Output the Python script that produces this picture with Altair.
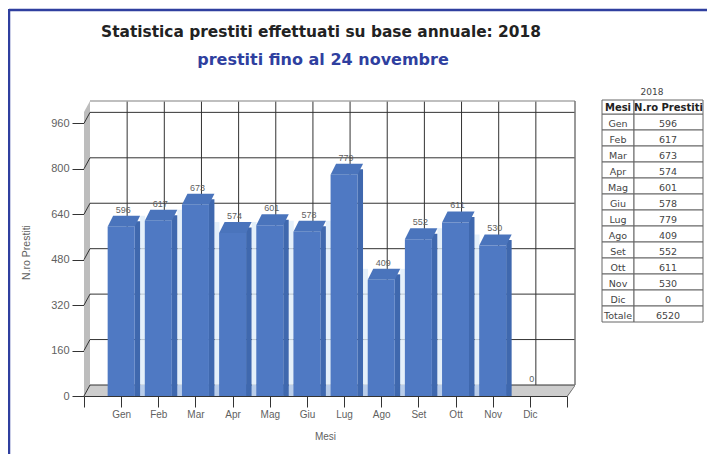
import altair as alt
import pandas as pd

months = ["Gen","Feb","Mar","Apr","Mag","Giu","Lug","Ago","Set","Ott","Nov","Dic"]
loans = [596,617,673,574,601,578,779,409,552,611,530,0]
y_ticks = [0,160,320,480,640,800,960]
table_rows = months + ["Totale"]
table_vals = loans + [6520]
title_text = "Statistica prestiti effettuati su base annuale: 2018"
subtitle_text = "prestiti fino al 24 novembre"

FRONT = "#4f79c3"; SIDE = "#3f68ae"; TOP = "#4a74bc"; SHADOW = "#dfecf9"; SHADOWF = "#b9cdea"
TXT = "#5f5f5f"; LINE = "#333333"; BLUE = "#2f3f9f"

x_domain = [" "] + months + ["  "]
xs = alt.Scale(type="point", domain=x_domain, padding=0)
ys = alt.Scale(domain=[0,1000], nice=False)

df = pd.DataFrame({"m": months, "v": loans})
bars = df[df.v > 0]
# pale strip between two neighbouring bars, as tall as the shorter one
gaps = pd.DataFrame({"m": months[:10], "v": [min(a, b) for a, b in zip(loans[:10], loans[1:11])]})
ticks_df = pd.DataFrame({"t": y_ticks})
m_df = pd.DataFrame({"m": months})
X = alt.X("m:N", scale=xs, axis=None)
Y = alt.Y("v:Q", scale=ys, axis=None)
origin = pd.DataFrame({"m":[" "], "v":[0]})
end = pd.DataFrame({"m":["  "], "v":[0]})
wall_top = pd.DataFrame({"m":[" "], "v":[1000]})

def shape(path, data, color):
    return alt.Chart(data).mark_point(shape=path, size=4, filled=True, fill=color, opacity=1, strokeWidth=0).encode(x=X, y=Y)

floor = shape("M0 0 L483 0 L491 -11 L6 -11 Z", origin, "#cdcdcd")
left_wall = shape("M0 0 L6 -11 L6 273 L0 284 Z", wall_top, "#bdbdbd")

back_h = alt.Chart(ticks_df).mark_rule(color=LINE, strokeWidth=1, yOffset=-11).encode(
    y=alt.Y("t:Q", scale=ys, axis=None), x=alt.value(6), x2=alt.value(491))
diag = alt.Chart(ticks_df).mark_point(shape="M0 0 L6 -11", size=4, stroke=LINE, strokeWidth=1, opacity=1, filled=False).encode(
    y=alt.Y("t:Q", scale=ys, axis=None), x=alt.value(0))
back_v = alt.Chart(m_df).mark_rule(color=LINE, strokeWidth=1, xOffset=6).encode(
    x=X, y=alt.value(-11), y2=alt.value(273))
frame_back = alt.Chart(origin).mark_rule(color="#777777", strokeWidth=1.5).encode(
    x=alt.value(491), y=alt.value(-11), y2=alt.value(273))
top_edge = alt.Chart(origin).mark_rule(color="#aaaaaa", strokeWidth=1.5).encode(
    x=alt.value(6), x2=alt.value(491), y=alt.value(-11))
right_diag = shape("M0 0 L8 -11 L8 -10 L1 0 Z", end, "#555555")

axes = alt.Chart(df).mark_point(opacity=0).encode(
    x=alt.X("m:N", scale=xs, title="Mesi", axis=alt.Axis(values=x_domain, labelAngle=0, labelFontSize=10,
        labelColor=TXT, tickColor=LINE, tickSize=11, domainColor=LINE, titleFontSize=10, titleColor=TXT,
        titleFontWeight="normal", labelPadding=2, titleY=35, titleX=241, titleFont="Liberation Sans", labelFont="Liberation Sans", grid=False)),
    y=alt.Y("v:Q", scale=ys, title="N.ro Prestiti", axis=alt.Axis(values=y_ticks, labelFontSize=11,
        labelColor=TXT, tickColor=LINE, tickSize=12, domain=False, titleFontSize=10.5, titleColor=TXT,
        titleFontWeight="normal", labelPadding=3, titleX=-53, titleY=140, titleFont="Liberation Sans", labelFont="Liberation Sans", grid=False)))

shadow = alt.Chart(gaps).mark_bar(size=5, xOffset=21.5, yOffset=-11, color=SHADOW, opacity=0.8).encode(x=X, y=Y, y2=alt.datum(0))
shadow_f = shape("M14 0 L24 0 L24 -11 L19 -11 Z", gaps.assign(v=0), SHADOWF)
side = alt.Chart(bars).mark_bar(size=5.5, xOffset=16.2, yOffset=-5.5, color=SIDE, opacity=1).encode(x=X, y=Y, y2=alt.datum(0))
side_bot = shape("M13.5 0 L19 -11 L13.5 -11 Z", bars.assign(v=0), SIDE)
front = alt.Chart(bars).mark_bar(size=27, color=FRONT, opacity=1).encode(x=X, y=Y, y2=alt.datum(0))
top_face = shape("M-13.5 0 L13.5 0 L19 -11 L-8 -11 Z", bars, TOP)
labels = alt.Chart(df).mark_text(fontSize=9, color=TXT, dy=-17, dx=2, font="Liberation Sans").encode(x=X, y=Y, text="v:N")

plot = alt.layer(floor, left_wall, back_h, back_v, top_edge, frame_back, right_diag, axes, diag,
                 shadow, shadow_f, side, side_bot, front, top_face, labels).resolve_axis(x="independent", y="independent")

# table
tdf = pd.DataFrame({"r": table_rows, "v": table_vals})
ty = alt.Y("r:N", scale=alt.Scale(type="band", domain=table_rows, range=[2, 210], paddingInner=0, paddingOuter=0), axis=None)
BORDER = "#666666"
TX0, TX1, TX2 = 518, 550, 619
col1 = alt.Chart(tdf).mark_rect(fill="white", stroke=BORDER, strokeWidth=1).encode(y=ty, x=alt.value(TX0), x2=alt.value(TX1))
col2 = alt.Chart(tdf).mark_rect(fill="white", stroke=BORDER, strokeWidth=1).encode(y=ty, x=alt.value(TX1), x2=alt.value(TX2))
t1 = alt.Chart(tdf).mark_text(fontSize=9.5, dy=1.5, color="#444444", font="DejaVu Sans").encode(y=ty, x=alt.value(534), text="r:N")
t2 = alt.Chart(tdf).mark_text(fontSize=9.5, dy=1.5, color="#444444", font="DejaVu Sans").encode(y=ty, x=alt.value(584), text="v:N")
h1 = alt.Chart(origin).mark_rect(fill="white", stroke=BORDER).encode(x=alt.value(TX0), x2=alt.value(TX1), y=alt.value(-12), y2=alt.value(2))
h2 = alt.Chart(origin).mark_rect(fill="white", stroke=BORDER).encode(x=alt.value(TX1), x2=alt.value(TX2), y=alt.value(-12), y2=alt.value(2))
ht1 = alt.Chart(origin).mark_text(text="Mesi", fontSize=10, fontWeight="bold", color="#222222", font="DejaVu Sans").encode(x=alt.value(534), y=alt.value(-4))
ht2 = alt.Chart(origin).mark_text(text="N.ro Prestiti", fontSize=10, fontWeight="bold", color="#222222", font="DejaVu Sans").encode(x=alt.value(584.5), y=alt.value(-4))
ttl = alt.Chart(origin).mark_text(text="2018", fontSize=9, color="#444444", font="DejaVu Sans").encode(x=alt.value(568), y=alt.value(-20))
table = alt.layer(col1, col2, t1, t2, h1, h2, ht1, ht2, ttl)

# outer frame and headings
fr1 = alt.Chart(origin).mark_rule(color=BLUE, strokeWidth=2.5).encode(x=alt.value(-75), y=alt.value(-103), y2=alt.value(345))
fr2 = alt.Chart(origin).mark_rule(color=BLUE, strokeWidth=2.5).encode(x=alt.value(-75), x2=alt.value(640), y=alt.value(-102))
head1 = alt.Chart(origin).mark_text(text=title_text, fontSize=15.4, fontWeight="bold", color="#222222", font="DejaVu Sans").encode(x=alt.value(237), y=alt.value(-80))
head2 = alt.Chart(origin).mark_text(text=subtitle_text, fontSize=16, fontWeight="bold", color=BLUE, font="DejaVu Sans").encode(x=alt.value(239), y=alt.value(-52))
frame = alt.layer(fr1, fr2, head1, head2)

chart = alt.layer(plot, table, frame).resolve_scale(x="independent", y="independent").properties(
    width=483, height=284,
    padding={"left":76,"top":104,"right":140,"bottom":58},
    autosize=alt.AutoSizeParams(type="none"),
).configure_view(stroke=None)

chart.save("out.html", embed_options={"renderer": "svg", "actions": False})
